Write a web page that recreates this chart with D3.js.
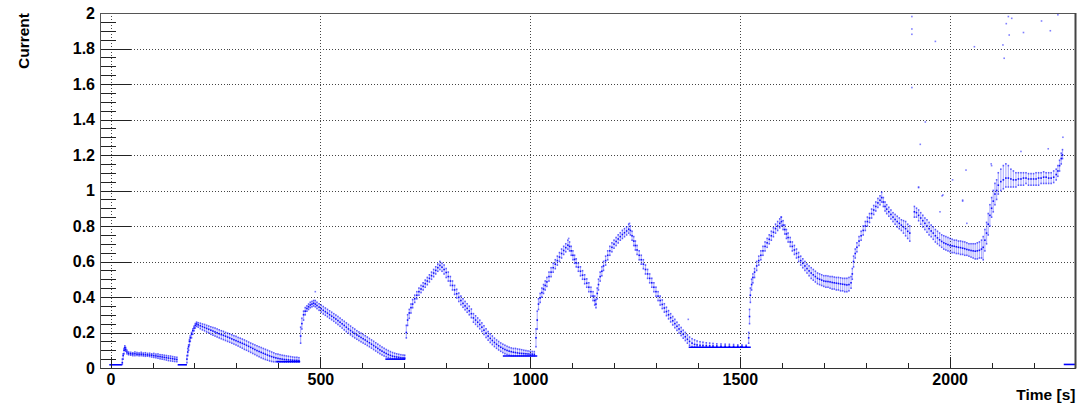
<!DOCTYPE html>
<html>
<head>
<meta charset="utf-8">
<script src="https://cdn.jsdelivr.net/npm/d3@7"></script>
<style>
  html, body { margin: 0; padding: 0; background: #fff; }
  svg { display: block; font-family: "Liberation Sans", Arial, Helvetica, sans-serif; font-weight: bold; }
</style>
</head>
<body>
<svg id="chart" width="1077" height="405"></svg>
<script>
// Axis ticks and labels
const xMajorTicks = [0, 500, 1000, 1500, 2000];
const xMinorTicks = [100, 200, 300, 400, 600, 700, 800, 900, 1100, 1200, 1300, 1400, 1600, 1700, 1800, 1900, 2100, 2200];
const yMajorTicks = [0, 0.2, 0.4, 0.6, 0.8, 1, 1.2, 1.4, 1.6, 1.8, 2];
const yMinorTicks = [0.05, 0.1, 0.15, 0.25, 0.3, 0.35, 0.45, 0.5, 0.55, 0.65, 0.7, 0.75, 0.85, 0.9, 0.95,
  1.05, 1.1, 1.15, 1.25, 1.3, 1.35, 1.45, 1.5, 1.55, 1.65, 1.7, 1.75, 1.85, 1.9, 1.95];
const xTitle = "Time [s]";
const yTitle = "Current";

// Current readings: [time, low edge, centre, high edge] of the point cloud
const runA = [[28,0.02,0.03,0.05],[30,0.05,0.07,0.08],[32,0.08,0.10,0.11],[34,0.10,0.115,0.125],[36,0.095,0.105,0.115],
  [39,0.08,0.09,0.10],[43,0.075,0.082,0.09],[48,0.072,0.08,0.088],[53,0.07,0.079,0.086],[58,0.07,0.08,0.09],
  [63,0.071,0.078,0.087],[68,0.069,0.077,0.085],[73,0.07,0.078,0.088],[78,0.068,0.076,0.084],[83,0.066,0.075,0.086],
  [88,0.067,0.074,0.082],[93,0.065,0.073,0.083],[98,0.062,0.072,0.08],[103,0.06,0.07,0.082],[108,0.058,0.068,0.078],
  [113,0.055,0.066,0.079],[118,0.052,0.064,0.075],[123,0.05,0.062,0.074],[128,0.048,0.06,0.072],[133,0.045,0.058,0.07],
  [138,0.042,0.056,0.068],[143,0.04,0.054,0.067],[148,0.038,0.052,0.064],[153,0.037,0.05,0.062],[158,0.036,0.048,0.06]];

const runB = [[182,0.03,0.05,0.07],[184,0.07,0.09,0.11],[186,0.10,0.12,0.13],[188,0.13,0.15,0.16],[190,0.15,0.17,0.18],
  [193,0.17,0.19,0.20],[196,0.19,0.21,0.22],[199,0.21,0.225,0.235],[202,0.225,0.24,0.25],[205,0.235,0.248,0.258],
  [209,0.23,0.243,0.255],[214,0.222,0.238,0.252],[219,0.215,0.233,0.248],[224,0.21,0.228,0.245],[229,0.203,0.223,0.24],
  [234,0.198,0.218,0.236],[239,0.19,0.213,0.232],[244,0.185,0.208,0.228],[249,0.18,0.203,0.225],[254,0.175,0.198,0.22],
  [259,0.17,0.193,0.215],[264,0.165,0.188,0.21],[269,0.16,0.184,0.206],[274,0.155,0.179,0.2],[279,0.15,0.174,0.196],
  [284,0.145,0.169,0.192],[289,0.14,0.164,0.187],[294,0.135,0.159,0.182],[299,0.13,0.154,0.178],[304,0.124,0.149,0.172],
  [309,0.118,0.144,0.168],[314,0.112,0.139,0.163],[319,0.105,0.134,0.158],[324,0.1,0.128,0.152],[329,0.094,0.122,0.146],
  [334,0.088,0.116,0.14],[339,0.082,0.11,0.135],[344,0.076,0.104,0.13],[349,0.07,0.098,0.125],[354,0.064,0.093,0.12],
  [359,0.058,0.088,0.115],[364,0.053,0.083,0.11],[369,0.048,0.078,0.105],[374,0.044,0.073,0.1],[379,0.04,0.068,0.095],
  [384,0.037,0.064,0.09],[389,0.035,0.06,0.085],[394,0.035,0.057,0.08],[399,0.034,0.054,0.078],[404,0.034,0.052,0.075],
  [409,0.034,0.05,0.072],[414,0.033,0.048,0.07],[419,0.033,0.047,0.068],[424,0.033,0.046,0.066],[429,0.033,0.045,0.064],
  [434,0.033,0.044,0.062],[439,0.033,0.043,0.06],[444,0.033,0.043,0.06],[449,0.033,0.042,0.058]];

const runC = [[453,0.14,0.18,0.23],[456,0.22,0.25,0.28],[460,0.27,0.30,0.32],[464,0.30,0.32,0.34],[468,0.32,0.335,0.35],
  [472,0.33,0.345,0.36],[476,0.34,0.355,0.37],[480,0.345,0.36,0.375],[484,0.35,0.365,0.38],[488,0.345,0.36,0.38],
  [492,0.335,0.352,0.37],[497,0.325,0.343,0.362],[502,0.315,0.334,0.354],[507,0.305,0.325,0.346],[512,0.297,0.317,0.338],
  [517,0.289,0.309,0.33],[522,0.28,0.3,0.322],[527,0.272,0.292,0.314],[532,0.263,0.284,0.306],[537,0.254,0.276,0.298],
  [542,0.245,0.267,0.29],[547,0.235,0.258,0.281],[552,0.225,0.249,0.272],[557,0.215,0.24,0.263],[562,0.205,0.23,0.254],
  [567,0.196,0.22,0.245],[572,0.187,0.211,0.236],[577,0.178,0.202,0.227],[582,0.17,0.194,0.219],[587,0.162,0.186,0.21],
  [592,0.155,0.179,0.203],[597,0.148,0.172,0.196],[602,0.141,0.165,0.189],[607,0.134,0.158,0.182],[612,0.127,0.15,0.174],
  [617,0.12,0.142,0.166],[622,0.112,0.134,0.158],[627,0.104,0.126,0.15],[632,0.096,0.118,0.142],[637,0.088,0.11,0.134],
  [642,0.081,0.102,0.126],[647,0.074,0.095,0.118],[652,0.068,0.088,0.111],[657,0.063,0.082,0.104],[662,0.059,0.076,0.098],
  [667,0.056,0.071,0.092],[672,0.053,0.067,0.087],[677,0.052,0.064,0.083],[682,0.051,0.062,0.08],[687,0.05,0.06,0.077],
  [692,0.05,0.058,0.075],[697,0.05,0.057,0.073],[701,0.05,0.056,0.072]];

const runD = [[705,0.17,0.2,0.24],[708,0.24,0.27,0.30],[712,0.28,0.31,0.33],[716,0.31,0.34,0.36],[720,0.34,0.36,0.385],
  [725,0.37,0.39,0.41],[730,0.39,0.41,0.43],[735,0.41,0.43,0.45],[740,0.425,0.445,0.465],[745,0.44,0.46,0.48],
  [750,0.455,0.475,0.495],[755,0.47,0.49,0.51],[760,0.485,0.505,0.525],[765,0.5,0.52,0.54],[770,0.515,0.535,0.555],
  [775,0.53,0.55,0.57],[780,0.545,0.565,0.585],[785,0.555,0.578,0.6],[790,0.545,0.568,0.59],[795,0.53,0.555,0.58],
  [800,0.51,0.538,0.56],[805,0.49,0.515,0.54],[810,0.465,0.49,0.515],[815,0.44,0.465,0.49],[820,0.415,0.44,0.465],
  [825,0.395,0.418,0.443],[830,0.375,0.398,0.422],[835,0.357,0.38,0.405],[840,0.342,0.364,0.39],[845,0.328,0.35,0.375],
  [850,0.314,0.336,0.362],[855,0.3,0.322,0.348],[860,0.284,0.306,0.332],[865,0.258,0.282,0.306],[870,0.246,0.27,0.294],
  [875,0.234,0.258,0.282],[880,0.221,0.245,0.269],[885,0.206,0.23,0.254],[890,0.189,0.213,0.238],[895,0.172,0.196,0.221],
  [900,0.157,0.18,0.205],[905,0.144,0.167,0.192],[910,0.132,0.155,0.18],[915,0.121,0.144,0.168],[920,0.111,0.134,0.158],
  [925,0.102,0.125,0.149],[930,0.094,0.117,0.141],[935,0.087,0.11,0.134],[940,0.081,0.104,0.128],[945,0.076,0.099,0.122],
  [950,0.072,0.095,0.117],[955,0.07,0.092,0.113],[960,0.069,0.089,0.11],[965,0.069,0.087,0.11],[970,0.069,0.085,0.107],
  [975,0.069,0.083,0.105],[980,0.069,0.082,0.103],[985,0.069,0.081,0.1],[990,0.069,0.08,0.098],[995,0.069,0.079,0.096],
  [1000,0.069,0.078,0.094],[1005,0.069,0.078,0.093],[1010,0.069,0.077,0.092]];

const runE = [[1014,0.12,0.17,0.22],[1017,0.22,0.27,0.32],[1020,0.33,0.36,0.39],[1024,0.37,0.395,0.42],[1028,0.40,0.425,0.45],
  [1032,0.42,0.445,0.47],[1036,0.44,0.465,0.49],[1040,0.46,0.485,0.51],[1045,0.49,0.515,0.54],[1050,0.515,0.54,0.565],
  [1055,0.54,0.565,0.59],[1060,0.56,0.585,0.61],[1065,0.58,0.605,0.63],[1070,0.6,0.625,0.65],[1075,0.62,0.645,0.67],
  [1080,0.64,0.662,0.685],[1085,0.655,0.678,0.7],[1090,0.67,0.692,0.72],[1094,0.66,0.685,0.71],[1098,0.635,0.66,0.685],
  [1102,0.61,0.635,0.66],[1106,0.59,0.612,0.635],[1110,0.57,0.592,0.615],[1115,0.545,0.568,0.59],[1120,0.52,0.545,0.57],
  [1125,0.5,0.523,0.548],[1130,0.475,0.5,0.525],[1135,0.455,0.478,0.502],[1140,0.43,0.455,0.48],[1145,0.405,0.43,0.455],
  [1150,0.38,0.405,0.43],[1154,0.355,0.38,0.405],[1157,0.34,0.36,0.385],[1160,0.39,0.42,0.45],[1163,0.44,0.47,0.5],
  [1167,0.49,0.515,0.54],[1171,0.52,0.545,0.57],[1175,0.55,0.575,0.6],[1180,0.58,0.605,0.63],[1185,0.61,0.635,0.66],
  [1190,0.635,0.66,0.685],[1195,0.655,0.68,0.705],[1200,0.675,0.698,0.72],[1205,0.69,0.713,0.735],[1210,0.705,0.727,0.75],
  [1215,0.72,0.74,0.762],[1220,0.73,0.752,0.775],[1225,0.74,0.762,0.785],[1230,0.75,0.772,0.795],[1235,0.76,0.782,0.81],
  [1239,0.75,0.775,0.8],[1243,0.72,0.745,0.77],[1247,0.69,0.715,0.74],[1251,0.665,0.69,0.715],[1255,0.64,0.665,0.69],
  [1260,0.61,0.635,0.66],[1265,0.585,0.61,0.635],[1270,0.56,0.585,0.61],[1275,0.53,0.555,0.58],[1280,0.505,0.53,0.555],
  [1285,0.48,0.505,0.53],[1290,0.455,0.48,0.505],[1295,0.43,0.455,0.48],[1300,0.405,0.43,0.455],[1305,0.38,0.405,0.43],
  [1310,0.355,0.38,0.405],[1315,0.335,0.358,0.383],[1320,0.315,0.338,0.362],[1325,0.295,0.318,0.342],[1330,0.277,0.3,0.323],
  [1335,0.26,0.283,0.306],[1340,0.243,0.266,0.29],[1345,0.227,0.25,0.274],[1350,0.212,0.235,0.258],[1355,0.197,0.22,0.243],
  [1360,0.183,0.205,0.228],[1365,0.168,0.19,0.213],[1370,0.155,0.176,0.2],[1375,0.14,0.162,0.186],[1380,0.128,0.15,0.174],
  [1386,0.12,0.14,0.165],[1392,0.118,0.133,0.158],[1398,0.118,0.13,0.152],[1405,0.118,0.128,0.148],[1412,0.118,0.127,0.145],
  [1420,0.118,0.126,0.142],[1428,0.118,0.125,0.14],[1436,0.118,0.124,0.138],[1445,0.118,0.124,0.136],[1455,0.118,0.123,0.135],
  [1465,0.118,0.123,0.134],[1475,0.118,0.122,0.133],[1485,0.118,0.122,0.132],[1495,0.118,0.122,0.13],[1505,0.118,0.122,0.13],
  [1515,0.118,0.121,0.128]];

const runF = [[1521,0.14,0.17,0.2],[1523,0.25,0.29,0.33],[1525,0.37,0.41,0.45],[1528,0.44,0.47,0.5],[1531,0.48,0.51,0.53],
  [1535,0.51,0.54,0.56],[1540,0.55,0.575,0.6],[1545,0.58,0.605,0.63],[1550,0.61,0.635,0.66],[1555,0.635,0.66,0.685],
  [1560,0.66,0.685,0.71],[1565,0.68,0.705,0.73],[1570,0.7,0.725,0.75],[1575,0.72,0.745,0.77],[1580,0.74,0.765,0.79],
  [1585,0.76,0.785,0.81],[1590,0.775,0.8,0.825],[1595,0.79,0.815,0.84],[1599,0.8,0.825,0.85],[1603,0.78,0.805,0.83],
  [1607,0.755,0.78,0.805],[1611,0.73,0.755,0.78],[1615,0.71,0.735,0.76],[1620,0.685,0.71,0.735],[1625,0.66,0.685,0.71],
  [1630,0.64,0.665,0.69],[1635,0.62,0.645,0.67],[1640,0.6,0.625,0.65],[1645,0.58,0.605,0.63],[1650,0.565,0.59,0.615],
  [1655,0.55,0.575,0.6],[1660,0.535,0.56,0.585],[1665,0.52,0.547,0.575],[1670,0.505,0.535,0.565],[1675,0.495,0.525,0.555],
  [1680,0.485,0.515,0.545],[1685,0.475,0.505,0.535],[1690,0.47,0.5,0.53],[1695,0.465,0.495,0.525],[1700,0.46,0.49,0.52],
  [1705,0.455,0.488,0.52],[1710,0.455,0.487,0.518],[1715,0.45,0.485,0.515],[1720,0.445,0.482,0.515],[1725,0.445,0.48,0.512],
  [1730,0.44,0.478,0.51],[1735,0.44,0.476,0.51],[1740,0.435,0.474,0.508],[1745,0.435,0.472,0.505],[1750,0.43,0.47,0.505],
  [1755,0.43,0.468,0.505],[1760,0.435,0.47,0.51],[1765,0.45,0.48,0.515],[1768,0.5,0.53,0.56],[1771,0.57,0.6,0.63],
  [1775,0.62,0.645,0.67],[1779,0.655,0.68,0.705],[1784,0.69,0.715,0.74],[1789,0.72,0.745,0.77],[1794,0.75,0.775,0.8],
  [1799,0.775,0.8,0.825],[1804,0.8,0.825,0.85],[1809,0.82,0.845,0.87],[1814,0.845,0.87,0.895],[1819,0.865,0.89,0.915],
  [1824,0.885,0.91,0.935],[1829,0.905,0.93,0.955],[1834,0.92,0.945,0.97],[1838,0.935,0.96,0.99],[1842,0.91,0.935,0.96],
  [1846,0.885,0.91,0.935],[1850,0.87,0.895,0.92],[1855,0.855,0.88,0.905],[1860,0.84,0.865,0.89],[1865,0.825,0.85,0.875],
  [1870,0.81,0.837,0.865],[1875,0.795,0.825,0.855],[1880,0.785,0.815,0.845],[1885,0.775,0.805,0.835],[1890,0.76,0.795,0.83],
  [1895,0.745,0.785,0.825],[1900,0.73,0.77,0.81],[1905,0.715,0.76,0.8]];

const runG = [[1916,0.85,0.88,0.91],[1921,0.85,0.875,0.9],[1926,0.83,0.86,0.89],[1931,0.81,0.845,0.875],[1936,0.795,0.83,0.86],
  [1941,0.78,0.815,0.845],[1946,0.765,0.8,0.835],[1951,0.75,0.785,0.82],[1956,0.74,0.772,0.805],[1961,0.725,0.76,0.795],
  [1966,0.71,0.745,0.78],[1971,0.7,0.733,0.77],[1976,0.69,0.722,0.76],[1981,0.68,0.713,0.75],[1986,0.67,0.705,0.745],
  [1991,0.665,0.7,0.74],[1996,0.66,0.695,0.735],[2001,0.655,0.69,0.73],[2006,0.65,0.688,0.725],[2011,0.65,0.686,0.72],
  [2016,0.645,0.683,0.72],[2021,0.645,0.68,0.715],[2026,0.64,0.678,0.715],[2031,0.64,0.675,0.712],[2036,0.635,0.672,0.71],
  [2041,0.635,0.668,0.705],[2046,0.63,0.665,0.7],[2051,0.625,0.662,0.7],[2056,0.62,0.66,0.7],[2061,0.615,0.658,0.7],
  [2066,0.615,0.66,0.705],[2071,0.62,0.663,0.71],[2076,0.62,0.67,0.72],[2080,0.61,0.68,0.74],[2084,0.66,0.72,0.78],
  [2088,0.7,0.76,0.82],[2092,0.75,0.81,0.87],[2096,0.8,0.86,0.92],[2100,0.85,0.9,0.96],[2104,0.88,0.94,1.0],
  [2108,0.92,0.98,1.04],[2112,0.95,1.0,1.06]];

const runH = [[2116,0.98,1.03,1.1],[2122,1.0,1.05,1.12],[2128,1.01,1.06,1.14],[2134,1.02,1.07,1.15],[2140,1.02,1.07,1.14],
  [2146,1.02,1.065,1.12],[2152,1.02,1.06,1.11],[2158,1.02,1.06,1.1],[2164,1.03,1.065,1.1],[2170,1.03,1.065,1.1],
  [2176,1.03,1.07,1.1],[2182,1.04,1.07,1.1],[2188,1.03,1.065,1.095],[2194,1.03,1.065,1.095],[2200,1.03,1.065,1.095],
  [2206,1.03,1.065,1.1],[2212,1.03,1.07,1.1],[2218,1.04,1.07,1.1],[2224,1.04,1.075,1.105],[2230,1.04,1.075,1.1],
  [2236,1.04,1.07,1.1],[2242,1.04,1.07,1.1],[2248,1.045,1.075,1.11],[2254,1.06,1.09,1.12],[2258,1.08,1.11,1.14],
  [2262,1.11,1.14,1.17],[2266,1.15,1.18,1.21],[2269,1.18,1.2,1.23]];

// Idle baselines: [start time, end time, current]
const baselines = [[-3,27,0.018],[160,182,0.018],[395,452,0.036],[655,702,0.05],[935,1017,0.068],[1378,1526,0.117],[2272,2300,0.02]];

// Isolated readings: [time, current]
const strays = [[1910,1.98],[1910,1.91],[1910,1.88],[1966,1.84],[1910,1.58],[1942,1.386],[1930,1.26],[1982,0.97],
  [2039,1.115],[2059,1.81],[2140,1.98],[2135,1.94],[2142,1.876],[2130,1.745],[2127,1.82],[2148,1.97],[2176,1.89],
  [2219,1.955],[2240,1.9],[2258,1.99],[2235,1.235],[2170,1.22],[2031,0.94],[2100,1.14],[1926,1.02],[1984,0.975],
  [2031,0.946],[1977,0.88],[2041,0.815],[2270,1.3],[2007,1.06],[2099,1.15],[1926,1.016],[488,0.43],[1377,0.274],
  [1237,0.815],[1092,0.73],[1598,0.85]];

(function () {
  const svg = d3.select("#chart");
  const x = d3.scaleLinear().domain([-24, 2300]).range([100.5, 1075.5]);
  const y = d3.scaleLinear().domain([0, 2]).range([368, 13]);
  const xL = x.range()[0], xR = x.range()[1], yT = y.range()[1], yB = y.range()[0];

  // Dotted grid
  const grid = svg.append("g").attr("shape-rendering", "crispEdges");
  grid.append("g").attr("transform", `translate(0,${yB})`)
    .call(d3.axisBottom(x).tickValues(xMajorTicks).tickSize(-(yB - yT)).tickFormat(""))
    .call(g => g.select(".domain").remove());
  grid.append("g").attr("transform", `translate(${xL},0)`)
    .call(d3.axisLeft(y).tickValues(yMajorTicks.slice(1, -1)).tickSize(-(xR - xL)).tickFormat(""))
    .call(g => g.select(".domain").remove());
  grid.selectAll("line").attr("stroke", "#444").attr("stroke-dasharray", "1,2");

  // Measured points: each sample spans its low..high range, with dots at the edges and centre
  const plot = svg.append("g");
  const rows = [runA, runB, runC, runD, runE, runF, runG, runH].flat();
  const dots = [];
  rows.forEach(([t, lo, mid, hi]) => {
    dots.push({ t, v: lo, core: false }, { t, v: mid, core: true }, { t, v: hi, core: false });
  });
  strays.forEach(([t, v]) => dots.push({ t, v, core: false }));

  plot.selectAll("line.span").data(rows).join("line").attr("class", "span")
    .attr("x1", d => x(d[0])).attr("x2", d => x(d[0]))
    .attr("y1", d => y(d[1]) + 0.8).attr("y2", d => y(d[3]) - 0.8)
    .attr("stroke", "#0000ff").attr("stroke-width", 1.2).attr("stroke-opacity", 0.3);

  plot.selectAll("line.base").data(baselines).join("line").attr("class", "base")
    .attr("x1", d => x(d[0])).attr("x2", d => x(d[1]))
    .attr("y1", d => y(d[2])).attr("y2", d => y(d[2]))
    .attr("stroke", "#0000ff").attr("stroke-width", 1.6);

  plot.selectAll("rect.pt").data(dots).join("rect").attr("class", "pt")
    .attr("x", d => x(d.t) - 0.8).attr("y", d => y(d.v) - 0.8)
    .attr("width", 1.6).attr("height", 1.6)
    .attr("fill", "#0000ff").attr("fill-opacity", d => d.core ? 0.9 : 0.5);

  // Axes with ticks drawn inside the frame
  const axes = svg.append("g").attr("shape-rendering", "crispEdges");
  axes.append("g").attr("transform", `translate(0,${yB})`)
    .call(d3.axisBottom(x).tickValues(xMajorTicks).tickSize(-11).tickPadding(5.6).tickFormat(d3.format("d")));
  axes.append("g").attr("transform", `translate(0,${yB})`)
    .call(d3.axisBottom(x).tickValues(xMinorTicks).tickSize(-5.5).tickFormat(""));
  axes.append("g").attr("transform", `translate(${xL},0)`)
    .call(d3.axisLeft(y).tickValues(yMajorTicks).tickSize(-30).tickPadding(5.5).tickFormat(d => d3.format("~g")(d)));
  axes.append("g").attr("transform", `translate(${xL},0)`)
    .call(d3.axisLeft(y).tickValues(yMinorTicks).tickSize(-15).tickFormat(""));
  axes.selectAll(".domain").remove();
  axes.selectAll("line").attr("stroke", "#222");
  axes.selectAll("text").attr("font-size", 16).attr("font-weight", "bold")
    .attr("font-family", "'Liberation Sans', Arial, sans-serif").attr("fill", "#000");

  // Frame
  svg.append("rect").attr("x", xL).attr("y", yT + 0.5)
    .attr("width", xR - xL).attr("height", yB - yT - 0.5)
    .attr("fill", "none").attr("stroke", "#555").attr("stroke-width", 1).attr("shape-rendering", "crispEdges");
  svg.append("line").attr("x1", xR).attr("x2", xR).attr("y1", yT).attr("y2", yB + 0.5)
    .attr("stroke", "#444").attr("stroke-width", 2);
  svg.append("line").attr("x1", xL).attr("x2", xR).attr("y1", yB + 0.5).attr("y2", yB + 0.5)
    .attr("stroke", "#333").attr("stroke-width", 1);

  // Titles
  svg.append("text").attr("transform", `translate(28.5,${yT}) rotate(-90)`)
    .attr("text-anchor", "end").attr("font-size", 15.5).attr("fill", "#000").text(yTitle);
  svg.append("text").attr("x", xR).attr("y", 400)
    .attr("text-anchor", "end").attr("font-size", 15.5).attr("fill", "#000").text(xTitle);
})();
</script>
</body>
</html>
